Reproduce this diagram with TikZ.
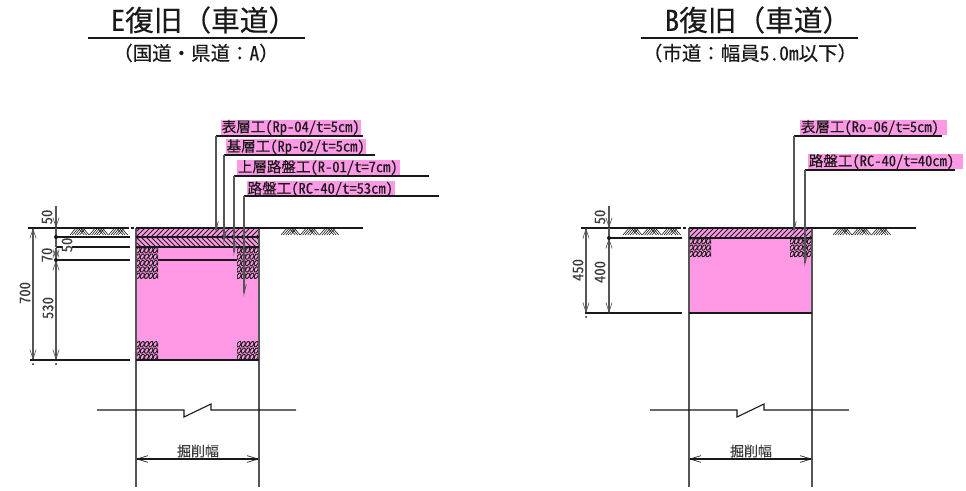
\documentclass[tikz,border=0pt]{standalone}
\usepackage{fontspec}
\usetikzlibrary{arrows.meta}
\setmainfont[FakeBold=0.25]{Noto Sans CJK JP}
\newfontfamily\hw[CharacterWidth=Half,FakeBold=0.25]{Noto Sans CJK JP}
\definecolor{pk}{RGB}{255,153,230}
\definecolor{ink}{RGB}{25,25,25}
\definecolor{dimc}{RGB}{85,85,85}
\tikzset{
 x=.75pt,y=-.75pt,
 px/.style={line width=#1*.75pt},
 struct/.style={draw=ink,px=1.1},
 wall/.style={draw=dimc,px=1.2},
 dimline/.style={draw=dimc,px=1.1,{Straight Barb[length=7pt,width=4.6pt,line width=.5pt]}-{Straight Barb[length=7pt,width=4.6pt,line width=.5pt]}},
 dimdown/.style={draw=dimc,px=1.1,-{Straight Barb[length=7pt,width=4.6pt,line width=.5pt]}},
 widthdim/.style={draw=ink,px=1.3,{Straight Barb[length=8pt,width=5pt,line width=.5pt]}-{Straight Barb[length=8pt,width=5pt,line width=.5pt]}},
 leader/.style={draw=dimc,px=1.2,-{Straight Barb[harpoon,length=7pt,width=3.4pt,line width=.6pt]}},
 leadertop/.style={draw=ink,px=1.2},
 tag/.style={fill=pk,inner xsep=.5pt,inner ysep=0pt,minimum height=11.2pt,text width=#1,align=left,text=ink,font=\fontsize{10.9pt}{11.5pt}\selectfont},
 num/.style={rotate=90,text=ink!85,inner sep=0pt,font=\hw\fontsize{11pt}{12pt}\selectfont},
 ttl/.style={inner sep=0pt,text=ink,font=\fontsize{21.5pt}{23pt}\selectfont},
 sub/.style={inner sep=0pt,text=ink,font=\fontsize{14.6pt}{16pt}\selectfont},
 wd/.style={inner sep=0pt,text=ink!85,font=\fontsize{10.5pt}{12pt}\selectfont},
 dotm/.style={fill=ink,circle,inner sep=0pt,minimum size=3pt},
 speck/.style={fill=ink,circle,inner sep=0pt,minimum size=1.5pt},
}
\newcommand{\hatchrt}[4]{%
 \begin{scope}\clip (#1,#2) rectangle (#3,#4);
 \foreach \xx in {-20,-15,...,140}{\draw[ink,px=1] (#1+\xx,#4)--(#1+\xx+#4-#2,#2);}
 \end{scope}}
\newcommand{\hatchlf}[4]{%
 \begin{scope}\clip (#1,#2) rectangle (#3,#4);
 \foreach \xx in {-20,-15,...,140}{\draw[ink,px=1] (#1+\xx,#2)--(#1+\xx+#4-#2,#4);}
 \end{scope}}
\newcommand{\coil}[3]{%
 \begin{scope}\clip (#1,#2) rectangle (#1+22,#2+6.4*#3);
 \foreach \r in {1,...,#3}{\foreach \c in {0,...,5}{
  \draw[ink,px=.9] (#1+2+\c*4.3,#2+3.2+\r*6.4-6.4) ellipse[x radius=1.7,y radius=3,rotate=-28];}}
 \end{scope}}
\newcommand{\soil}[2]{%
 \foreach \g in {0,1,2}{
  \foreach \i in {0,...,4}{\draw[ink,px=.6] (#1+\g*19.3+\i*2.4,#2+7)--(#1+\g*19.3+\i*2.4+6,#2);}
  \foreach \i in {0,1,2}{\draw[ink,px=.6] (#1+\g*19.3+19-\i*2.4,#2+7)--(#1+\g*19.3+13-\i*2.4,#2);}
 }}
\begin{document}
\begin{tikzpicture}
\useasboundingbox (0,0) rectangle (966,491);
% ---------- left: titles
\node[ttl] (t1) at (204,20) {{\hw E}復旧（車道）};
\coordinate (t1a) at (88,38); \coordinate (t1b) at (305,38);
\draw[ink,px=2] (t1a)--(t1b);
\node[sub] (s1) at (196,53) {（国道・県道：{\hw A}）};
% fill
\fill[pk] (136,228) rectangle (259,360);
\hatchrt{136}{228}{259}{237}
\hatchlf{136}{237}{259}{247}
\coil{136}{247}{5}\coil{237}{247}{5}\coil{136}{341}{3}\coil{237}{341}{3}
% walls and level lines
\coordinate (wl1) at (136,228); \coordinate (wl2) at (136,487);
\coordinate (wr1) at (259,228); \coordinate (wr2) at (259,487);
\draw[wall] (wl1)--(wl2); \draw[wall] (wr1)--(wr2);
\coordinate (g1a) at (28,228); \coordinate (g1c) at (129,228); \coordinate (g1d) at (136,228); \coordinate (g1b) at (363,228);
\draw[struct] (g1a)--(g1c); \draw[struct] (g1d)--(g1b);
\draw[struct] (131,228)--(134,228);
\foreach \n/\a/\b in {237/56/130,247/56/130,260/56/130,360/30/130}{\draw[struct] (\a,\n)--(\b,\n);}
\draw[struct] (136,237)--(259,237); \draw[struct] (136,247)--(259,247);
\draw[struct] (158,260)--(237,260); \draw[struct] (136,360)--(259,360);
\soil{70}{228}\soil{281}{228}
% dims left
\coordinate (a700) at (33,228); \coordinate (b700) at (33,360);
\coordinate (a530) at (56,260); \coordinate (b530) at (56,360);
\coordinate (a50) at (56,206); \coordinate (b50) at (56,228);
\coordinate (a70) at (56,247); \coordinate (b70) at (56,260);
\coordinate (c50) at (56,228); \coordinate (d50) at (56,247);
\draw[dimline] (a700)--(b700);
\draw[dimline] (a530)--(b530);
\draw[dimdown] (a50)--(b50);
\draw[dimc,px=1.1] (c50)--(d50);
\draw[dimline] (a70)--(b70);
\node[dotm] (dt1) at (56,237) {};
\node[dotm] (dt2) at (56,260) {};
\node[speck] (sp1) at (33,364) {};
\node[speck] (sp2) at (56,364) {};
\node[num] (n50a) at (47,217) {50};
\node[num,fill=white] (n50b) at (67,245) {50};
\node[num] (n70) at (47,255) {70};
\node[num] (n700) at (25,293) {700};
\node[num] (n530) at (48,308) {530};
% break line left
\coordinate (bk1) at (97,410); \coordinate (bk2) at (296,410);
\draw[struct] (bk1)--(184,410)--(184,417)--(211,404)--(211,410)--(bk2);
% width
\coordinate (w1) at (136,459); \coordinate (w2) at (259,459);
\draw[widthdim] (w1)--(w2);
\node[wd] (wt1) at (198,451) {掘削幅};
% leaders left
\node[tag=104pt] (L1) at (291,127.5) {表層工{\hw (Rp-04/t=5cm)}};
\node[tag=104pt] (L2) at (296,147) {基層工{\hw (Rp-02/t=5cm)}};
\node[tag=121pt] (L3) at (318.5,167.5) {上層路盤工{\hw (R-01/t=7cm)}};
\node[tag=110pt] (L4) at (321,189) {路盤工{\hw (RC-40/t=53cm)}};
\coordinate (l1e) at (363,136); \coordinate (l1c) at (216,136); \coordinate (l1t) at (216,234);
\coordinate (l2e) at (375,155); \coordinate (l2c) at (224,155); \coordinate (l2t) at (224,244);
\coordinate (l3e) at (429,176); \coordinate (l3c) at (234,176); \coordinate (l3t) at (234,256);
\coordinate (l4e) at (439,196); \coordinate (l4c) at (244,196); \coordinate (l4t) at (244,297);
\draw[leadertop] (l1e)--(l1c); \draw[leader] (l1c)--(l1t);
\draw[leadertop] (l2e)--(l2c); \draw[leader] (l2c)--(l2t);
\draw[leadertop] (l3e)--(l3c); \draw[leader] (l3c)--(l3t);
\draw[leadertop] (l4e)--(l4c); \draw[leader] (l4c)--(l4t);
% ---------- right
\node[ttl] (t2) at (758,20) {{\hw B}復旧（車道）};
\coordinate (t2a) at (641,38); \coordinate (t2b) at (858,38);
\draw[ink,px=2] (t2a)--(t2b);
\node[sub] (s2) at (750,53) {（市道：幅員{\hw 5.0m}以下）};
\fill[pk] (689,228) rectangle (812,313);
\hatchrt{689}{228}{812}{238}
\coil{689}{238}{3}\coil{790}{238}{3}
\coordinate (wl3) at (689,228); \coordinate (wl4) at (689,487);
\coordinate (wr3) at (812,228); \coordinate (wr4) at (812,487);
\draw[wall] (wl3)--(wl4); \draw[wall] (wr3)--(wr4);
\coordinate (g2a) at (581,228); \coordinate (g2c) at (681,228); \coordinate (g2d) at (689,228); \coordinate (g2b) at (916,228);
\draw[struct] (g2a)--(g2c); \draw[struct] (g2d)--(g2b);
\draw[struct] (683,228)--(686,228);
\draw[struct] (609,238)--(682,238); \draw[struct] (585,313)--(682,313);
\draw[struct] (689,238)--(812,238); \draw[struct] (689,313)--(812,313);
\soil{623}{228}\soil{833}{228}
\coordinate (a450) at (586,228); \coordinate (b450) at (586,313);
\coordinate (a400) at (609,238); \coordinate (b400) at (609,313);
\coordinate (a50r) at (609,206); \coordinate (b50r) at (609,228);
\coordinate (c50r) at (609,228);
\draw[dimline] (a450)--(b450);
\draw[dimline] (a400)--(b400);
\draw[dimdown] (a50r)--(b50r);
\draw[dimc,px=1.1] (c50r)--(a400);
\node[dotm] (dt3) at (609,238) {};
\node[speck] (sp3) at (586,317) {};
\node[num] (r50) at (600,217) {50};
\node[num] (r400) at (600,272) {400};
\node[num] (r450) at (578,270) {450};
\coordinate (bk3) at (650,410); \coordinate (bk4) at (849,410);
\draw[struct] (bk3)--(737,410)--(737,417)--(764,404)--(764,410)--(bk4);
\coordinate (w3) at (689,459); \coordinate (w4) at (812,459);
\draw[widthdim] (w3)--(w4);
\node[wd] (wt2) at (751,451) {掘削幅};
\node[tag=109pt] (R1) at (873.5,127.5) {表層工{\hw (Ro-06/t=5cm)}};
\node[tag=115pt] (R2) at (885.5,161.5) {路盤工{\hw (RC-40/t=40cm)}};
\coordinate (r1e) at (942,136); \coordinate (r1c) at (794,136); \coordinate (r1t) at (794,234);
\coordinate (r2e) at (955,170); \coordinate (r2c) at (805,170); \coordinate (r2t) at (805,267);
\draw[leadertop] (r1e)--(r1c); \draw[leader] (r1c)--(r1t);
\draw[leadertop] (r2e)--(r2c); \draw[leader] (r2c)--(r2t);
\end{tikzpicture}
\end{document}
